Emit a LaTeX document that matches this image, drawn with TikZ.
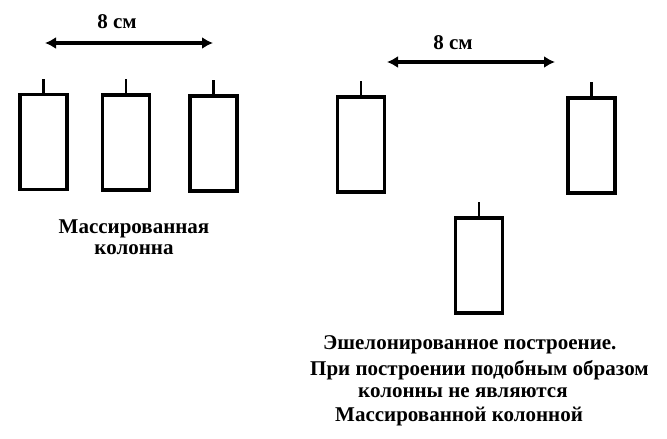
\documentclass[tikz,border=0pt]{standalone}
\usepackage{fontspec}
\setmainfont{Liberation Serif}
\usetikzlibrary{positioning,calc,arrows.meta}
\tikzset{>=latex}
\tikzset{
	colbox/.style={draw, line width=3.9pt, minimum width=47pt, minimum height=95pt, inner sep=0pt},
	flag/.style={line width=2.8pt},
	span/.style={{Latex[length=11pt,width=12pt]}-{Latex[length=11pt,width=12pt]}, line width=3.6pt},
	lbl/.style={font=\fontsize{21}{21}\selectfont\bfseries, align=center, inner sep=0pt},
}

\begin{document}
\begin{tikzpicture}[x=1pt,y=-1pt]
		\useasboundingbox (0,0) rectangle (667,439);
		% massed column
		\node[colbox] (l1) at (43.5,142) {};
		\node[colbox] (l2) at (126,142.5) {};
		\node[colbox] (l3) at (213.5,143.5) {};
		\coordinate (la) at (45,43);
		\coordinate (lb) at (213,43);
		\draw[span] (la) -- (lb);
		\node[lbl] (ld) at (117,22) {8 см};
		\node[lbl] (lt) at (134,237) {Массированная\\колонна};
		% echelon
		\node[colbox] (r1) at (361,144.5) {};
		\node[colbox] (r2) at (591.5,145.5) {};
		\node[colbox] (r3) at (479,265.5) {};
		\coordinate (ra) at (387,62);
		\coordinate (rb) at (555,62);
		\draw[span] (ra) -- (rb);
		\node[lbl] (rd) at (453,43) {8 см};
		\foreach \n in {l1,l2,l3,r1,r2,r3}
			\draw[flag] (\n.north) -- ++(0,-14);
		\node[lbl, anchor=west] (t1) at (323,345) {Эшелонированное построение.};
		\node[lbl, anchor=west] (t2) at (310,370) {При построении подобным образом};
		\node[lbl, anchor=west] (t3) at (358,393) {колонны не являются};
		\node[lbl, anchor=west] (t4) at (335,417) {Массированной колонной};
	\end{tikzpicture}
\end{document}
